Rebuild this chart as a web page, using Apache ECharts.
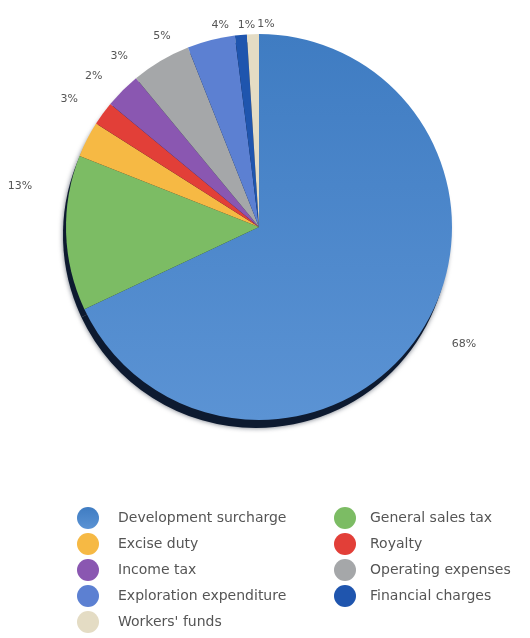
<!DOCTYPE html>
<html>
<head>
<meta charset="utf-8">
<script src="https://cdn.jsdelivr.net/npm/echarts@6/dist/echarts.min.js"></script>
<style>
  html, body { margin: 0; padding: 0; background: #ffffff; }
  #chart { width: 530px; height: 638px; }
</style>
</head>
<body>
<div id="chart"></div>
<script>
// Cost components, clockwise from 12 o'clock
const categories = [
  'Development surcharge',
  'General sales tax',
  'Excise duty',
  'Royalty',
  'Income tax',
  'Operating expenses',
  'Exploration expenditure',
  'Financial charges',
  "Workers' funds"
];
const shares = [68, 13, 3, 2, 3, 5, 4, 1, 1];

const palette = [
  '#4783c6', '#7cbc64', '#f6b944', '#e23f38', '#8a57b1',
  '#a5a7a9', '#5c80d2', '#1f55ae', '#e4dcc4'
];

// nudges (px) applied to each percentage label after the default outside placement
const labelShift = [
  [18, 9], [-21, -47], [3, -37], [11, -33], [16, -29],
  [19, -18], [25, -7], [20, -2], [27, -2]
];

// legend columns (row-wise reading order split into two columns)
const legendLeft = categories.filter((_, i) => i % 2 === 0);
const legendRight = categories.filter((_, i) => i % 2 === 1);

const CX = 259, CY = 227, R = 193;
const FONT = 'DejaVu Sans, Verdana, sans-serif';

const slices = categories.map((name, i) => ({
  name: name,
  value: shares[i],
  itemStyle: {
    color: i === 0
      ? new echarts.graphic.LinearGradient(0, 0, 0, 1, [
          { offset: 0, color: '#3f7cc2' },
          { offset: 1, color: '#5b93d4' }
        ])
      : palette[i]
  }
}));

const chart = echarts.init(document.getElementById('chart'), null, { renderer: 'canvas' });

const legendCommon = {
  orient: 'vertical',
  icon: 'circle',
  itemWidth: 22,
  itemHeight: 22,
  itemGap: 4,
  padding: 0,
  selectedMode: false
};
const legendText = (pad) => ({
  fontFamily: FONT,
  fontSize: 14,
  color: '#555555',
  padding: [0, 0, 0, pad]
});

chart.setOption({
  animation: false,
  color: palette,
  legend: [
    Object.assign({}, legendCommon, { left: 77, top: 507, data: legendLeft, textStyle: legendText(14) }),
    Object.assign({}, legendCommon, { left: 334, top: 507, data: legendRight, textStyle: legendText(9) })
  ],
  series: [
    {
      // dark rim under the disc
      type: 'pie',
      silent: true,
      center: [CX - 3, CY + 8],
      radius: R,
      data: shares.map(v => ({ value: v })),
      itemStyle: {
        color: '#0d1a30',
        shadowBlur: 5,
        shadowColor: 'rgba(10,20,40,0.6)'
      },
      label: { show: false },
      labelLine: { show: false },
      legendHoverLink: false
    },
    {
      type: 'pie',
      center: [CX, CY],
      radius: R,
      startAngle: 90,
      clockwise: true,
      avoidLabelOverlap: false,
      data: slices,
      label: {
        show: true,
        position: 'outside',
        formatter: '{c}%',
        fontFamily: FONT,
        fontSize: 11,
        color: '#555555'
      },
      labelLine: { show: false, length: 8, length2: 0 },
      labelLayout: function (p) {
        const s = labelShift[p.dataIndex];
        return { dx: s[0], dy: s[1], hideOverlap: false, moveOverlap: null };
      }
    }
  ]
});
</script>
</body>
</html>
